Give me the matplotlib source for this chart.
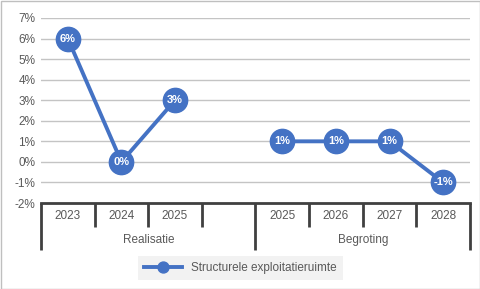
import matplotlib
matplotlib.use("Agg")
import matplotlib.pyplot as plt
import matplotlib.transforms as mtrans
from matplotlib.patches import Rectangle
import numpy as np

categories = ["2023", "2024", "2025", "", "2025", "2026", "2027", "2028"]
groups = ["Realisatie", "Begroting"]
group_spans = [(0, 3), (4, 7)]  # inclusive slot ranges
values = [6, 0, 3, np.nan, 1, 1, 1, -1]
yticks = [-2, -1, 0, 1, 2, 3, 4, 5, 6, 7]
series_name = "Structurele exploitatieruimte"

plt.rcParams['font.family'] = ['Liberation Sans', 'DejaVu Sans']
BLUE = "#4472C4"
TXT = "#595959"

fig = plt.figure(figsize=(4.81, 2.89), dpi=100)
ax = fig.add_axes([41/481, 1-203/289, (470-41)/481, (203-18)/289])
x = np.arange(len(categories))
ax.set_xlim(-0.5, len(categories)-0.5)
ax.set_ylim(-2, 7)
for y in yticks:
    if y != -2:
        ax.axhline(y, color="#c4c4c4", lw=1, zorder=1)
ax.set_yticks(yticks)
ax.set_yticklabels([f"{v}%" for v in yticks], fontsize=8.5, color=TXT)
ax.tick_params(axis='y', length=0, pad=4)
ax.set_xticks([])
for s in ["top", "right", "left"]:
    ax.spines[s].set_visible(False)
ax.spines["bottom"].set_color("#404040")
ax.spines["bottom"].set_linewidth(2)

ax.plot(x, values, color=BLUE, lw=2.8, marker="o", markersize=17.5,
        markerfacecolor=BLUE, markeredgecolor=BLUE, zorder=3, label=series_name)
for xi, v in zip(x, values):
    if not np.isnan(v):
        ax.text(xi, v, f"{v:.0f}%", ha="center", va="center", color="white",
                fontsize=8, fontweight="bold", zorder=4)

tr = mtrans.blended_transform_factory(ax.transData, ax.transAxes)
ah = 185.0
short = -24/ah
long_ = -47/ah
boundaries = [-0.5] + [b + 0.5 for _, b in group_spans]
for i in range(len(categories)+1):
    xb = i - 0.5
    y1 = long_ if xb in boundaries else short
    ax.plot([xb, xb], [0, y1], transform=tr, color="#404040", lw=2,
            clip_on=False, solid_capstyle="butt")
for xi, c in zip(x, categories):
    ax.text(xi, -13/ah, c, transform=tr, ha="center", va="center",
            fontsize=8.5, color=TXT)
for g, (a, b) in zip(groups, group_spans):
    ax.text((a - 0.5 + b + 0.5)/2, -37/ah, g, transform=tr, ha="center",
            va="center", fontsize=8.5, color=TXT)

leg = fig.legend(loc="center", bbox_to_anchor=(0.5, 1-268/289), fontsize=8.5,
                 frameon=True, fancybox=False, facecolor="#f2f2f2",
                 edgecolor="none", markerscale=0.45, handlelength=3.2,
                 borderpad=0.5, framealpha=1)
for t in leg.get_texts():
    t.set_color(TXT)

fig.patches.append(Rectangle((0.5/481, 0.5/289), 1-1/481, 1-1/289,
                             transform=fig.transFigure, fill=False,
                             edgecolor="#bfbfbf", lw=1))
fig.savefig("out.png", dpi=100)
